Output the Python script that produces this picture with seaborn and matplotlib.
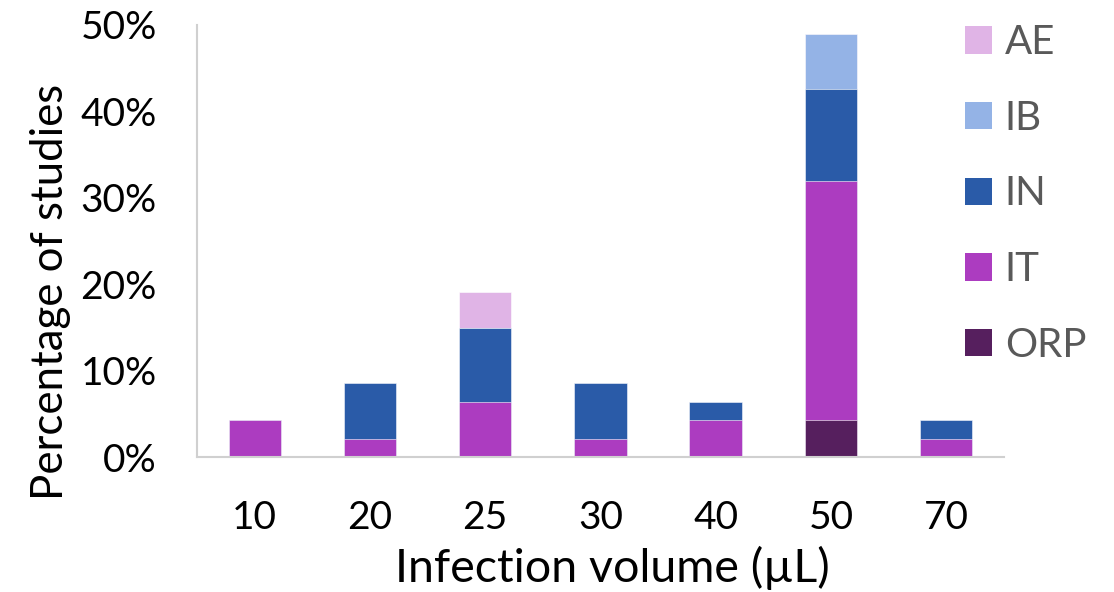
import matplotlib
matplotlib.use("Agg")
import matplotlib.pyplot as plt
from matplotlib.patches import Patch
from matplotlib.ticker import PercentFormatter, FixedLocator
import numpy as np
import pandas as pd
import seaborn as sns

# Infection volumes (µL) and share of studies (%) per route
volumes = ["10", "20", "25", "30", "40", "50", "70"]
ORP = [0.00, 0.00, 0.00, 0.00, 0.00, 4.26, 0.00]
IT = [4.26, 2.13, 6.38, 2.13, 4.26, 27.66, 2.13]
IN = [0.00, 6.38, 8.51, 6.38, 2.13, 10.64, 2.13]
IB = [0.00, 0.00, 0.00, 0.00, 0.00, 6.38, 0.00]
AE = [0.00, 0.00, 4.26, 0.00, 0.00, 0.00, 0.00]

routes = ["ORP", "IT", "IN", "IB", "AE"]          # stacking order, bottom to top
values = {"ORP": ORP, "IT": IT, "IN": IN, "IB": IB, "AE": AE}
colors = {"AE": "#E0B4E6", "IB": "#94B3E6", "IN": "#2A5BA8",
          "IT": "#AC3CC0", "ORP": "#561F5E"}

sns.set_theme(style="white")
plt.rcParams["font.family"] = ["Lato", "DejaVu Sans"]

df = pd.DataFrame(values, index=volumes)
cum = df[routes].cumsum(axis=1)

fig = plt.figure(figsize=(11.14, 5.92), dpi=100)
ax = fig.add_axes([0.177, 0.228, 0.724, 0.73])

# Draw cumulative totals from the top layer down so each segment shows its own colour
for r in reversed(routes):
    d = pd.DataFrame({"volume": volumes, "pct": cum[r].values})
    sns.barplot(data=d, x="volume", y="pct", order=volumes, color=colors[r],
                width=0.456, saturation=1, edgecolor="white", linewidth=0.4, ax=ax)

ax.set_ylim(0, 50)
ax.set_xlim(-0.5, 6.5)
ax.yaxis.set_major_locator(FixedLocator([0, 10, 20, 30, 40, 50]))
ax.yaxis.set_major_formatter(PercentFormatter(decimals=0))

for s in ["top", "right"]:
    ax.spines[s].set_visible(False)
for s in ["left", "bottom"]:
    ax.spines[s].set_color("#D0D0D0")
    ax.spines[s].set_linewidth(1.5)

ax.tick_params(axis="y", direction="in", length=6, color="#D0D0D0", width=1.5,
               labelsize=28, labelcolor="black", pad=29)
ax.tick_params(axis="x", length=0, labelsize=28, labelcolor="black", pad=31)

ax.set_xlabel("Infection volume (µL)", fontsize=33.5, color="black")
ax.set_ylabel("Percentage of studies", fontsize=31.5, color="black")
ax.xaxis.set_label_coords(0.515, -0.205)
ax.yaxis.set_label_coords(-0.157, 0.382)

handles = [Patch(facecolor=colors[r], edgecolor="none") for r in ["AE", "IB", "IN", "IT", "ORP"]]
ax.legend(handles, ["AE", "IB", "IN", "IT", "ORP"], loc="upper left",
          bbox_to_anchor=(0.932, 1.039), frameon=False, fontsize=29,
          labelcolor="#595959", handlelength=0.67, handleheight=0.67,
          handletextpad=0.32, labelspacing=0.96, borderaxespad=0)

fig.savefig("out.png", dpi=100, facecolor="white")
